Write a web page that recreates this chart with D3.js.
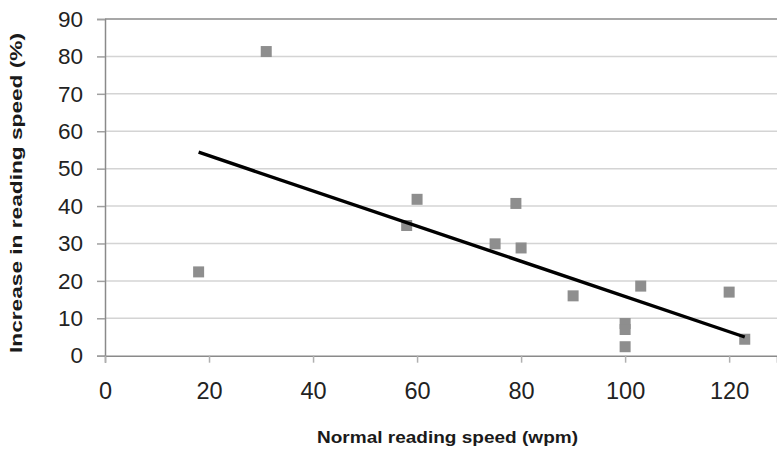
<!DOCTYPE html>
<html>
<head>
<meta charset="utf-8">
<script src="https://cdn.jsdelivr.net/npm/d3@7"></script>
<style>
  body { margin: 0; background: #fff; }
  svg { display: block; font-family: "Liberation Sans", Arial, sans-serif; }
</style>
</head>
<body>
<svg id="chart" width="777" height="450"></svg>
<script>
// values
var speedWpm = [18, 31, 58, 60, 75, 79, 80, 90, 100, 100, 100, 103, 120, 123];
var increasePct = [22.4, 81.3, 34.8, 41.8, 29.9, 40.7, 28.8, 16.0, 8.6, 7.0, 2.4, 18.6, 17.0, 4.4];
var trendX = [18, 123];
var trendY = [54.4, 5.0];
var xTicks = [0, 20, 40, 60, 80, 100, 120];
var yTicks = [0, 10, 20, 30, 40, 50, 60, 70, 80, 90];

var svg = d3.select("#chart");

var plotLeft = 105, plotRight = 777, plotTop = 19, plotBottom = 355.7;

var x = d3.scaleLinear().domain([0, 129.2]).range([plotLeft, plotRight]);
var y = d3.scaleLinear().domain([0, 90]).range([plotBottom, plotTop]);

// gridlines
svg.append("g")
  .selectAll("line")
  .data(yTicks.filter(function(d) { return d > 0 && d < 90; }))
  .enter().append("line")
  .attr("x1", plotLeft).attr("x2", plotRight)
  .attr("y1", function(d) { return y(d); }).attr("y2", function(d) { return y(d); })
  .attr("stroke", "#d4d4d4").attr("stroke-width", 1.5);

// top border
svg.append("line")
  .attr("x1", plotLeft).attr("x2", plotRight).attr("y1", y(90)).attr("y2", y(90))
  .attr("stroke", "#8a8a8a").attr("stroke-width", 1.5);

// y axis
var yAxis = svg.append("g")
  .attr("transform", "translate(" + plotLeft + ",0)")
  .call(d3.axisLeft(y).tickValues(yTicks).tickSize(8).tickPadding(14));
yAxis.select(".domain").attr("stroke", "#8a8a8a").attr("stroke-width", 1.5);
yAxis.selectAll(".tick line").attr("stroke", "#a0a0a0").attr("stroke-width", 1.5);
yAxis.selectAll(".tick text")
  .attr("font-size", 22.5).attr("fill", "#222")
  .attr("font-family", "Liberation Sans, Arial, sans-serif");

// x axis
var xAxis = svg.append("g")
  .attr("transform", "translate(0," + plotBottom + ")")
  .call(d3.axisBottom(x).tickValues(xTicks).tickSize(7).tickPadding(20));
xAxis.select(".domain").attr("stroke", "#8a8a8a").attr("stroke-width", 1.5);
xAxis.selectAll(".tick line").attr("stroke", "#b0b0b0").attr("stroke-width", 1.5);
xAxis.selectAll(".tick text")
  .attr("font-size", 23.5).attr("fill", "#222")
  .attr("font-family", "Liberation Sans, Arial, sans-serif");

// points
var pts = speedWpm.map(function(d, i) { return {x: d, y: increasePct[i]}; });
var size = 11;
svg.append("g")
  .selectAll("rect")
  .data(pts)
  .enter().append("rect")
  .attr("x", function(d) { return x(d.x) - size / 2; })
  .attr("y", function(d) { return y(d.y) - size / 2; })
  .attr("width", size).attr("height", size)
  .attr("fill", "#8e8e8e");

// trend line
var line = d3.line()
  .x(function(d) { return x(d[0]); })
  .y(function(d) { return y(d[1]); });
svg.append("path")
  .datum(trendX.map(function(d, i) { return [d, trendY[i]]; }))
  .attr("d", line)
  .attr("fill", "none").attr("stroke", "#000").attr("stroke-width", 3.4);

// axis titles
svg.append("text")
  .attr("x", 447.5).attr("y", 443)
  .attr("text-anchor", "middle")
  .attr("font-size", 17).attr("font-weight", "bold").attr("fill", "#1a1a1a")
  .attr("textLength", 261).attr("lengthAdjust", "spacingAndGlyphs")
  .text("Normal reading speed (wpm)");

svg.append("text")
  .attr("transform", "translate(22,193) rotate(-90)")
  .attr("text-anchor", "middle")
  .attr("font-size", 17).attr("font-weight", "bold").attr("fill", "#1a1a1a")
  .attr("textLength", 320).attr("lengthAdjust", "spacingAndGlyphs")
  .text("Increase in reading speed (%)");
</script>
</body>
</html>
